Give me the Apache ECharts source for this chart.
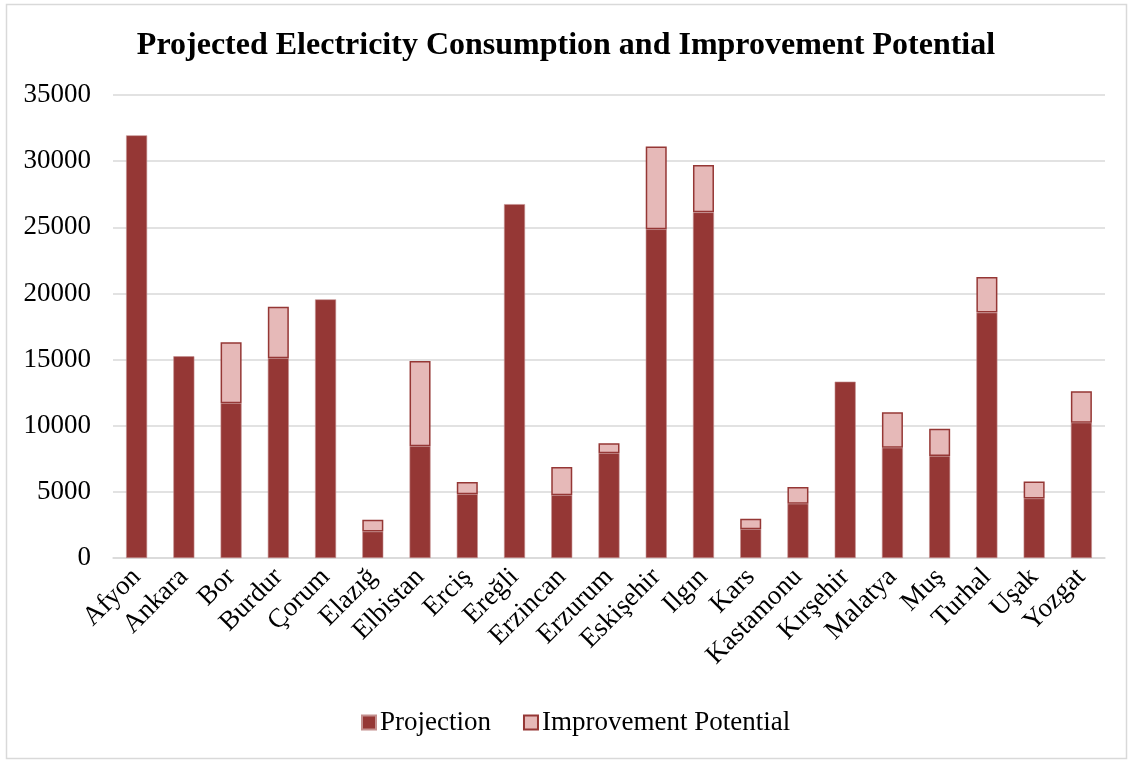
<!DOCTYPE html>
<html>
<head>
<meta charset="utf-8">
<script src="https://cdn.jsdelivr.net/npm/echarts@6/dist/echarts.min.js"></script>
<style>
  html, body { margin: 0; padding: 0; background: #fff; }
  #chart { width: 1132px; height: 761px; }
</style>
</head>
<body>
<div id="chart"></div>
<script>
// Stations / cities on the category axis
const cities = ['Afyon', 'Ankara', 'Bor', 'Burdur', 'Çorum', 'Elazığ', 'Elbistan', 'Erciş', 'Ereğli',
  'Erzincan', 'Erzurum', 'Eskişehir', 'Ilgın', 'Kars', 'Kastamonu', 'Kırşehir', 'Malatya', 'Muş',
  'Turhal', 'Uşak', 'Yozgat'];

// Projected consumption (lower stack)
const projection = [31950, 15250, 11700, 15100, 19550, 2000, 8450, 4820, 26750,
  4750, 7920, 24850, 26130, 2180, 4100, 13330, 8330, 7720,
  18550, 4500, 10230];

// Improvement potential (upper stack)
const improvement = [0, 0, 4600, 3900, 0, 900, 6450, 930, 0,
  2120, 760, 6250, 3580, 790, 1270, 0, 2680, 2050,
  2700, 1280, 2380];

const yTicks = { min: 0, max: 35000, interval: 5000 };

const DARK = '#953735';
const LIGHT = '#E6B9B8';
const FONT = '"Liberation Serif", "Times New Roman", serif';

const chart = echarts.init(document.getElementById('chart'), null, { renderer: 'canvas' });

chart.setOption({
  backgroundColor: '#fff',
  animation: false,
  textStyle: { fontFamily: FONT, color: '#000' },
  graphic: [{
    type: 'rect',
    shape: { x: 6.5, y: 4.5, width: 1120, height: 754 },
    style: { fill: 'none', stroke: '#d9d9d9', lineWidth: 1.5 },
    silent: true,
    z: -1
  }],
  title: {
    text: 'Projected Electricity Consumption and Improvement Potential',
    left: 'center',
    top: 25,
    textStyle: { fontFamily: FONT, fontSize: 32, fontWeight: 'bold', color: '#000' }
  },
  legend: {
    bottom: 20,
    left: 356,
    itemWidth: 14,
    itemHeight: 14,
    itemGap: 32,
    textStyle: { fontFamily: FONT, fontSize: 27, color: '#000', padding: [0, 0, 0, -1] },
    data: [
      { name: 'Projection', icon: 'rect' },
      { name: 'Improvement Potential', icon: 'rect' }
    ]
  },
  grid: { left: 113, right: 27, top: 95, bottom: 203, containLabel: false },
  xAxis: {
    type: 'category',
    data: cities,
    axisLine: { show: true, lineStyle: { color: '#d9d9d9', width: 1.5 } },
    axisTick: { show: false },
    axisLabel: {
      rotate: 45,
      margin: 15,
      interval: 0,
      fontFamily: FONT,
      fontSize: 27,
      color: '#000'
    }
  },
  yAxis: {
    type: 'value',
    min: yTicks.min,
    max: yTicks.max,
    interval: yTicks.interval,
    axisLine: { show: false },
    axisTick: { show: false },
    splitLine: { lineStyle: { color: '#d9d9d9', width: 1.5 } },
    axisLabel: {
      fontFamily: FONT, fontSize: 27, color: '#000', margin: 22,
      formatter: v => String(v)
    }
  },
  series: [
    {
      name: 'Projection',
      type: 'bar',
      stack: 'total',
      barWidth: 21,
      data: projection,
      itemStyle: { color: DARK, borderColor: '#c48f8e', borderWidth: 0.6 }
    },
    {
      name: 'Improvement Potential',
      type: 'bar',
      stack: 'total',
      barWidth: 21,
      data: improvement.map(v => (v === 0 ? null : v)),
      itemStyle: { color: LIGHT, borderColor: DARK, borderWidth: 1.5 }
    }
  ]
});
</script>
</body>
</html>
